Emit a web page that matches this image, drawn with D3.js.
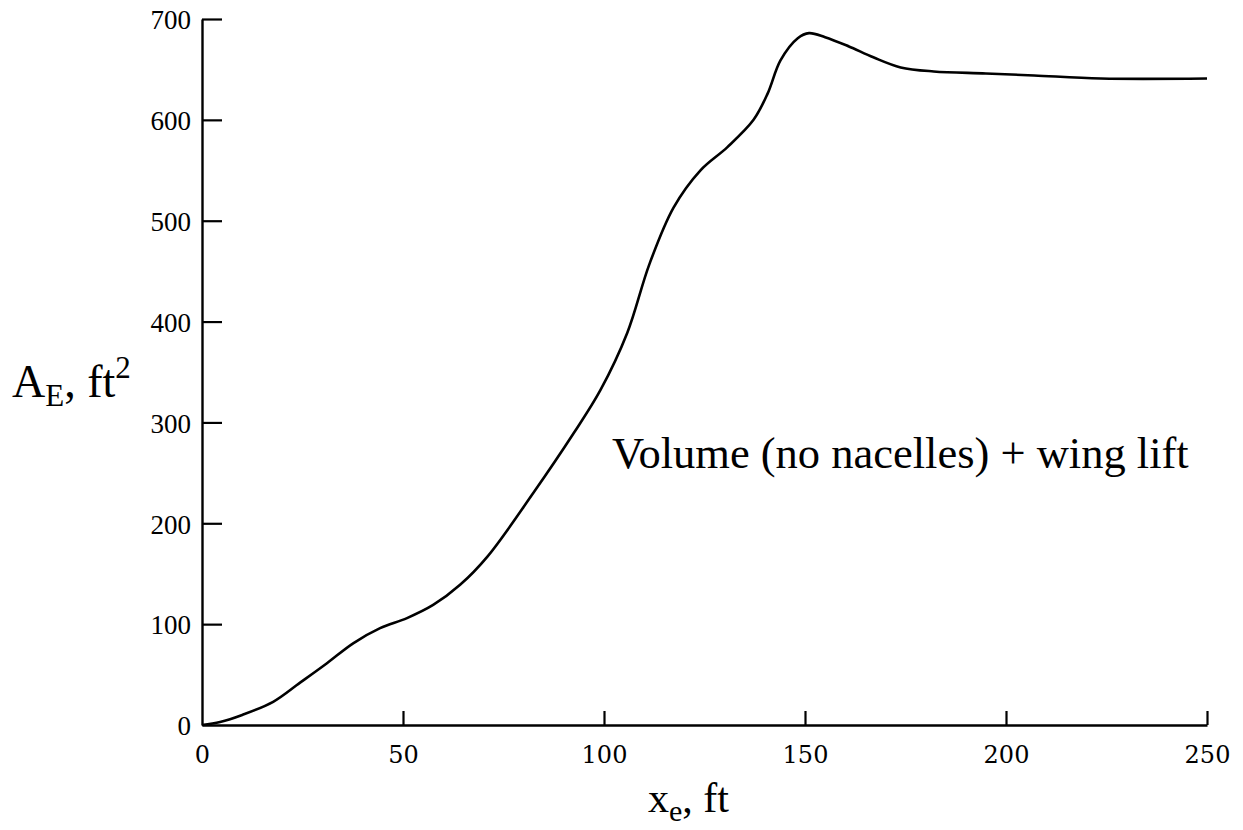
<!DOCTYPE html>
<html>
<head>
<meta charset="utf-8">
<script src="https://cdn.jsdelivr.net/npm/d3@7"></script>
<style>
  html, body { margin: 0; padding: 0; background: #fff; }
  svg { display: block; }
</style>
</head>
<body>
<svg id="chart" width="1243" height="830"></svg>
<script>
// Equivalent area distribution along the effective axis
const xeFt = [0, 4.5, 10, 17.7, 24.4, 31, 37.6, 44.3, 51, 57.5, 64.2, 71, 82.4, 92.4, 99.1, 105.8, 111.3, 117.3, 124, 130.7, 137.2, 140.7, 143.9, 148.2, 151, 155, 160.8, 167, 173.8, 182, 195, 207, 223.6, 250];
const areaFt2 = [0, 3, 10, 23, 42, 61, 81, 96, 106, 119, 139, 167, 230, 289, 332, 389, 457, 513, 550, 573, 600, 626, 659, 681, 686, 682, 673, 662, 652, 648, 646, 644, 641, 641];

const xTicks = [0, 50, 100, 150, 200, 250];
const yTicks = [0, 100, 200, 300, 400, 500, 600, 700];
const curveLabel = "Volume (no nacelles) + wing lift";

const svg = d3.select("#chart");
const serif = "'Liberation Serif', 'Times New Roman', serif";

const x = d3.scaleLinear().domain([0, 250]).range([202, 1207]);
const y = d3.scaleLinear().domain([0, 700]).range([725, 19]);

// y axis: ticks point inward, labels on the left
const yAxis = svg.append("g")
  .attr("transform", `translate(${x(0)},0)`)
  .call(d3.axisLeft(y).tickValues(yTicks).tickSizeInner(-20).tickSizeOuter(0).tickPadding(11));

// x axis: ticks point upward
const xAxis = svg.append("g")
  .attr("transform", `translate(0,${y(0)})`)
  .call(d3.axisBottom(x).tickValues(xTicks).tickSizeInner(-14).tickSizeOuter(0).tickPadding(21));

[yAxis, xAxis].forEach(g => {
  g.select(".domain").attr("stroke", "#000").attr("stroke-width", 2.4);
  g.selectAll(".tick line").attr("stroke", "#000").attr("stroke-width", 2.2);
  g.selectAll(".tick text").attr("fill", "#000");
});
yAxis.selectAll(".tick text").style("font-family", serif).style("font-size", "27px").attr("dy", "0.36em");
xAxis.selectAll(".tick text").style("font-family", "'DejaVu Serif', serif").style("font-size", "24px");
// corner ticks at the origin coincide with the axes
yAxis.selectAll(".tick").filter(d => d === 0).select("line").remove();
xAxis.selectAll(".tick").filter(d => d === 0).select("line").remove();

// curve
const line = d3.line()
  .x((d, i) => x(xeFt[i]))
  .y((d, i) => y(areaFt2[i]))
  .curve(d3.curveCatmullRom.alpha(0.5));

svg.append("path")
  .datum(areaFt2)
  .attr("d", line)
  .attr("fill", "none")
  .attr("stroke", "#000")
  .attr("stroke-width", 2.6)
  .attr("stroke-linejoin", "round");

// curve annotation
svg.append("text")
  .attr("x", 612).attr("y", 468)
  .style("font-family", serif).style("font-size", "44.5px")
  .attr("fill", "#000")
  .text(curveLabel);

// x axis title: x_e, ft
const xt = svg.append("text")
  .attr("x", 648).attr("y", 812)
  .style("font-family", serif).style("font-size", "42px")
  .attr("fill", "#000");
xt.append("tspan").text("x");
xt.append("tspan").attr("dy", 9).style("font-size", "30px").text("e");
xt.append("tspan").attr("dy", -9).text(", ft");

// y axis title: A_E, ft^2
const yt = svg.append("text")
  .attr("x", 12).attr("y", 397)
  .style("font-family", serif).style("font-size", "46px")
  .attr("fill", "#000");
yt.append("tspan").text("A");
yt.append("tspan").attr("dy", 9).style("font-size", "31px").text("E");
yt.append("tspan").attr("dy", -9).text(", ft");
yt.append("tspan").attr("dy", -19).style("font-size", "31px").text("2");
</script>
</body>
</html>
